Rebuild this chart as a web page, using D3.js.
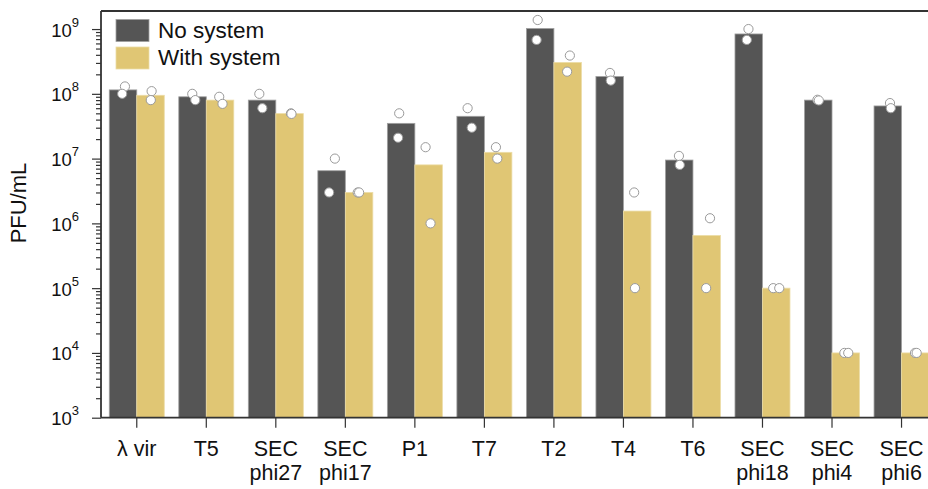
<!DOCTYPE html>
<html>
<head>
<meta charset="utf-8">
<script src="https://cdn.jsdelivr.net/npm/d3@7"></script>
<style>
  html, body { margin: 0; padding: 0; background: #fff; }
  svg { display: block; font-family: "Liberation Sans", Arial, Helvetica, sans-serif; }
</style>
</head>
<body>
<svg id="chart" width="928" height="489"></svg>
<script>
// ---- data ----
const categories = ["λ vir", "T5", "SEC phi27", "SEC phi17", "P1", "T7", "T2", "T4", "T6", "SEC phi18", "SEC phi4", "SEC phi6"];
const seriesNames = ["No system", "With system"];
const noSystemMean   = [1.15e8, 9.0e7, 8.0e7, 6.5e6, 3.5e7, 4.5e7, 1.02e9, 1.85e8, 9.5e6, 8.4e8, 8.0e7, 6.5e7];
const withSystemMean = [9.5e7, 8.0e7, 4.95e7, 3.0e6, 8.0e6, 1.25e7, 3.05e8, 1.55e6, 6.5e5, 1.0e5, 1.0e4, 1.0e4];
const noSystemReps = [[1.3e8, 1.0e8], [1.0e8, 8.0e7], [1.0e8, 6.0e7], [1.0e7, 3.0e6], [5.0e7, 2.1e7], [6.0e7, 3.0e7],
                      [1.38e9, 6.8e8], [2.1e8, 1.6e8], [1.1e7, 8.0e6], [1.0e9, 6.8e8], [8.1e7, 7.9e7], [7.2e7, 6.0e7]];
const withSystemReps = [[1.1e8, 8.0e7], [9.0e7, 7.0e7], [5.0e7, 4.9e7], [3.0e6, 3.0e6], [1.5e7, 1.0e6], [1.5e7, 1.0e7],
                        [3.9e8, 2.2e8], [3.0e6, 1.0e5], [1.2e6, 1.0e5], [1.0e5, 1.0e5], [1.0e4, 1.0e4], [1.0e4, 1.0e4]];
// strip-plot jitter, as fraction of bar width
const noSystemJitter = [[0.07, -0.03], [-0.01, 0.10], [-0.10, 0.01], [0.12, -0.09], [-0.07, -0.11], [-0.11, 0.04],
                        [-0.09, -0.13], [0.01, 0.04], [-0.01, 0.02], [-0.01, -0.07], [-0.03, 0.02], [0.08, 0.11]];
const withSystemJitter = [[0.04, 0.01], [-0.03, 0.09], [0.05, 0.07], [-0.05, 0.0], [-0.11, 0.07], [-0.08, -0.03],
                          [0.08, -0.02], [-0.11, -0.08], [0.12, -0.02], [-0.11, 0.11], [-0.05, 0.09], [-0.01, 0.05]];
const yMajorTicks = [1e3, 1e4, 1e5, 1e6, 1e7, 1e8, 1e9];
const yDomain = [1e3, 1.9e9];
const yLabel = "PFU/mL";

// ---- layout ----
const colors = ["#555555", "#e0c674"];
const edgeColors = ["#a0a0a0", "#ecdca6"];
const svg = d3.select("#chart");
const plotLeft = 101, plotBottom = 417.7, plotTop = 11;

const x = d3.scaleBand().domain(categories).range([plotLeft, 937.3]).paddingInner(0.209).paddingOuter(0.119);
const xSub = d3.scaleBand().domain([0, 1]).range([0, x.bandwidth()]);
const y = d3.scaleLog().domain(yDomain).range([plotBottom, plotTop]);

const series = [
  { name: seriesNames[0], mean: noSystemMean, reps: noSystemReps, jit: noSystemJitter },
  { name: seriesNames[1], mean: withSystemMean, reps: withSystemReps, jit: withSystemJitter }
];

// bars
series.forEach((s, si) => {
  svg.append("g").selectAll("rect").data(categories).join("rect")
    .attr("x", (c) => x(c) + xSub(si))
    .attr("width", xSub.bandwidth())
    .attr("y", (c, i) => y(s.mean[i]))
    .attr("height", (c, i) => plotBottom - y(s.mean[i]))
    .attr("fill", colors[si])
    .attr("stroke", edgeColors[si])
    .attr("stroke-width", 0.8);
});

// points
series.forEach((s, si) => {
  const pts = [];
  categories.forEach((c, i) => s.reps[i].forEach((v, k) => pts.push({ c, v, j: s.jit[i][k] })));
  svg.append("g").selectAll("circle").data(pts).join("circle")
    .attr("cx", (d) => x(d.c) + xSub(si) + xSub.bandwidth() / 2 + d.j * xSub.bandwidth())
    .attr("cy", (d) => y(d.v))
    .attr("r", 4.6)
    .attr("fill", "#ffffff")
    .attr("stroke", "#9a9a9a")
    .attr("stroke-width", 1);
});

// y axis
const axisColor = "#333333";
const yAxis = svg.append("g").attr("transform", `translate(${plotLeft},0)`)
  .call(d3.axisLeft(y).tickValues(yMajorTicks).tickSize(9).tickFormat(""));
const minorTicks = [];
yMajorTicks.forEach((t) => { for (let m = 2; m <= 9; m++) { if (t * m < yDomain[1]) minorTicks.push(t * m); } });
const yMinor = svg.append("g").attr("transform", `translate(${plotLeft},0)`)
  .call(d3.axisLeft(y).tickValues(minorTicks).tickSize(5).tickFormat(""));
yMinor.select(".domain").remove();
[yAxis, yMinor].forEach((g) => {
  g.selectAll("line").attr("stroke", axisColor).attr("stroke-width", 1.2);
  g.select(".domain").attr("stroke", axisColor).attr("stroke-width", 1.8);
});
yAxis.select(".domain").attr("d", `M0,${plotTop}V${plotBottom}`);

// y tick labels 10^n
const yLabels = svg.append("g");
yMajorTicks.forEach((t) => {
  const txt = yLabels.append("text")
    .attr("x", 79).attr("y", y(t) + 7.5)
    .attr("text-anchor", "end")
    .attr("fill", "#111")
    .style("font-size", "18.5px");
  txt.append("tspan").text("10");
  txt.append("tspan").attr("dy", -10).style("font-size", "13px").text(String(Math.round(Math.log10(t))));
});

// y axis title
svg.append("text")
  .attr("transform", `translate(26,203) rotate(-90)`)
  .attr("text-anchor", "middle")
  .attr("fill", "#111")
  .style("font-size", "22px")
  .text(yLabel);

// x axis
const xAxis = svg.append("g").attr("transform", `translate(0,${plotBottom})`)
  .call(d3.axisBottom(x).tickSize(10).tickFormat(""));
xAxis.select(".domain").attr("d", `M${plotLeft},0H928`).attr("stroke", axisColor).attr("stroke-width", 1.8);
xAxis.selectAll(".tick line").attr("stroke", axisColor).attr("stroke-width", 1.2);

// x labels (wrap on space for SEC names)
const xl = svg.append("g");
categories.forEach((c) => {
  const lines = c.startsWith("SEC") ? c.split(" ") : [c];
  const t = xl.append("text")
    .attr("x", x(c) + x.bandwidth() / 2)
    .attr("y", 456)
    .attr("text-anchor", "middle")
    .attr("fill", "#111")
    .style("font-size", "21.5px");
  lines.forEach((ln, li) => {
    t.append("tspan").attr("x", x(c) + x.bandwidth() / 2).attr("dy", li === 0 ? 0 : 23.5).text(ln);
  });
});

// top frame line
svg.append("line").attr("x1", plotLeft).attr("x2", 928).attr("y1", plotTop).attr("y2", plotTop)
  .attr("stroke", axisColor).attr("stroke-width", 1.8);

// legend
const lg = svg.append("g");
seriesNames.forEach((n, i) => {
  lg.append("rect").attr("x", 116).attr("y", 19.5 + i * 27.5).attr("width", 33).attr("height", 22)
    .attr("fill", colors[i]).attr("stroke", edgeColors[i]).attr("stroke-width", 0.8);
  lg.append("text").attr("x", 158).attr("y", 38 + i * 27.3)
    .attr("fill", "#111").style("font-size", "22.5px").text(n);
});
</script>
</body>
</html>
